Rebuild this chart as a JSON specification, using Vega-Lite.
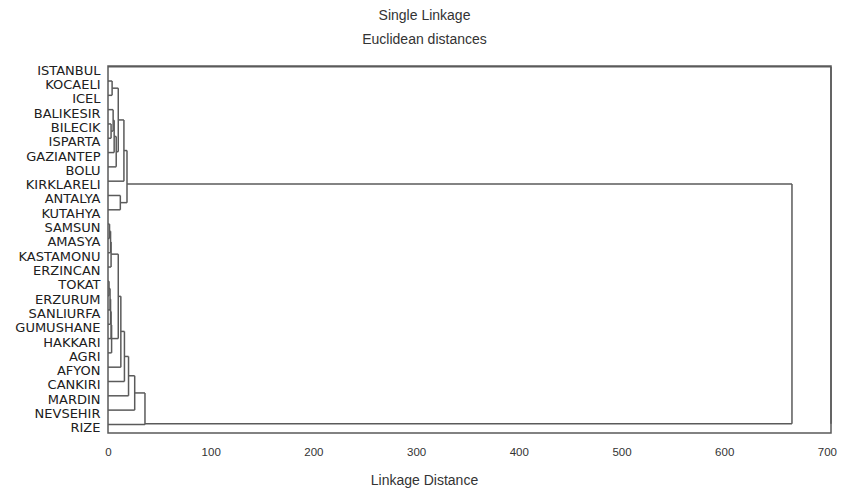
{
  "$schema": "https://vega.github.io/schema/vega-lite/v6.json",
  "width": 723,
  "height": 367,
  "autosize": {"type": "none"},
  "padding": {"left": 108, "top": 66, "right": 14, "bottom": 60},
  "background": "white",
  "title": {
    "text": "Single Linkage",
    "subtitle": "Euclidean distances",
    "font": "Liberation Sans",
    "subtitleFont": "Liberation Sans",
    "fontSize": 14,
    "subtitleFontSize": 14,
    "fontWeight": "normal",
    "color": "#333333",
    "subtitleColor": "#333333",
    "anchor": "middle",
    "dx": -45,
    "offset": 17,
    "subtitlePadding": 10
  },
  "config": {
    "view": {"stroke": "#5a5a5a", "strokeWidth": 1.5}
  },
  "data": {
    "values": [
      {"node": "ISTANBUL", "d1": 0, "d2": 704, "r1": 0, "r2": 0},
      {"node": "KOCAELI", "d1": 0, "d2": 4, "r1": 1, "r2": 1},
      {"node": "ICEL", "d1": 0, "d2": 4, "r1": 2, "r2": 2},
      {"node": "BALIKESIR", "d1": 0, "d2": 5, "r1": 3, "r2": 3},
      {"node": "BILECIK", "d1": 0, "d2": 3, "r1": 4, "r2": 4},
      {"node": "ISPARTA", "d1": 0, "d2": 3, "r1": 5, "r2": 5},
      {"node": "GAZIANTEP", "d1": 0, "d2": 6, "r1": 6, "r2": 6},
      {"node": "BOLU", "d1": 0, "d2": 8, "r1": 7, "r2": 7},
      {"node": "KIRKLARELI", "d1": 0, "d2": 15.5, "r1": 8, "r2": 8},
      {"node": "ANTALYA", "d1": 0, "d2": 12, "r1": 9, "r2": 9},
      {"node": "KUTAHYA", "d1": 0, "d2": 12, "r1": 10, "r2": 10},
      {"node": "SAMSUN", "d1": 0, "d2": 1.5, "r1": 11, "r2": 11},
      {"node": "AMASYA", "d1": 0, "d2": 1.5, "r1": 12, "r2": 12},
      {"node": "KASTAMONU", "d1": 0, "d2": 2.5, "r1": 13, "r2": 13},
      {"node": "ERZINCAN", "d1": 0, "d2": 3, "r1": 14, "r2": 14},
      {"node": "TOKAT", "d1": 0, "d2": 1, "r1": 15, "r2": 15},
      {"node": "ERZURUM", "d1": 0, "d2": 1, "r1": 16, "r2": 16},
      {"node": "SANLIURFA", "d1": 0, "d2": 2, "r1": 17, "r2": 17},
      {"node": "GUMUSHANE", "d1": 0, "d2": 2.5, "r1": 18, "r2": 18},
      {"node": "HAKKARI", "d1": 0, "d2": 3, "r1": 19, "r2": 19},
      {"node": "AGRI", "d1": 0, "d2": 3.5, "r1": 20, "r2": 20},
      {"node": "AFYON", "d1": 0, "d2": 12.5, "r1": 21, "r2": 21},
      {"node": "CANKIRI", "d1": 0, "d2": 16, "r1": 22, "r2": 22},
      {"node": "MARDIN", "d1": 0, "d2": 20, "r1": 23, "r2": 23},
      {"node": "NEVSEHIR", "d1": 0, "d2": 26, "r1": 24, "r2": 24},
      {"node": "RIZE", "d1": 0, "d2": 36, "r1": 25, "r2": 25},

      {"node": "T1", "d1": 4, "d2": 4, "r1": 1, "r2": 2},
      {"node": "T1", "d1": 4, "d2": 10, "r1": 1.5, "r2": 1.5},
      {"node": "T2", "d1": 3, "d2": 3, "r1": 4, "r2": 5},
      {"node": "T2", "d1": 3, "d2": 5, "r1": 4.5, "r2": 4.5},
      {"node": "T3", "d1": 5, "d2": 5, "r1": 3, "r2": 4.5},
      {"node": "T3", "d1": 5, "d2": 6, "r1": 3.75, "r2": 3.75},
      {"node": "T4", "d1": 6, "d2": 6, "r1": 3.75, "r2": 6},
      {"node": "T4", "d1": 6, "d2": 8, "r1": 4.875, "r2": 4.875},
      {"node": "T5", "d1": 8, "d2": 8, "r1": 4.875, "r2": 7},
      {"node": "T5", "d1": 8, "d2": 10, "r1": 5.94, "r2": 5.94},
      {"node": "T6", "d1": 10, "d2": 10, "r1": 1.5, "r2": 5.94},
      {"node": "T6", "d1": 10, "d2": 15.5, "r1": 3.72, "r2": 3.72},
      {"node": "T7", "d1": 15.5, "d2": 15.5, "r1": 3.72, "r2": 8},
      {"node": "T7", "d1": 15.5, "d2": 18.5, "r1": 5.86, "r2": 5.86},
      {"node": "T8", "d1": 12, "d2": 12, "r1": 9, "r2": 10},
      {"node": "T8", "d1": 12, "d2": 18.5, "r1": 9.5, "r2": 9.5},
      {"node": "T9", "d1": 18.5, "d2": 18.5, "r1": 5.86, "r2": 9.5},
      {"node": "T9", "d1": 18.5, "d2": 666, "r1": 8.2, "r2": 8.2},

      {"node": "BA", "d1": 1.5, "d2": 1.5, "r1": 11, "r2": 12},
      {"node": "BA", "d1": 1.5, "d2": 2.5, "r1": 11.5, "r2": 11.5},
      {"node": "BB", "d1": 2.5, "d2": 2.5, "r1": 11.5, "r2": 13},
      {"node": "BB", "d1": 2.5, "d2": 3, "r1": 12.25, "r2": 12.25},
      {"node": "BC", "d1": 3, "d2": 3, "r1": 12.25, "r2": 14},
      {"node": "BC", "d1": 3, "d2": 10, "r1": 13.1, "r2": 13.1},
      {"node": "BD", "d1": 1, "d2": 1, "r1": 15, "r2": 16},
      {"node": "BD", "d1": 1, "d2": 2, "r1": 15.5, "r2": 15.5},
      {"node": "BE", "d1": 2, "d2": 2, "r1": 15.5, "r2": 17},
      {"node": "BE", "d1": 2, "d2": 2.5, "r1": 16.25, "r2": 16.25},
      {"node": "BF", "d1": 2.5, "d2": 2.5, "r1": 16.25, "r2": 18},
      {"node": "BF", "d1": 2.5, "d2": 3, "r1": 17.1, "r2": 17.1},
      {"node": "BG", "d1": 3, "d2": 3, "r1": 17.1, "r2": 19},
      {"node": "BG", "d1": 3, "d2": 3.5, "r1": 18.05, "r2": 18.05},
      {"node": "BH", "d1": 3.5, "d2": 3.5, "r1": 18.05, "r2": 20},
      {"node": "BH", "d1": 3.5, "d2": 10, "r1": 19, "r2": 19},
      {"node": "BI", "d1": 10, "d2": 10, "r1": 13.1, "r2": 19},
      {"node": "BI", "d1": 10, "d2": 12.5, "r1": 16.05, "r2": 16.05},
      {"node": "BJ", "d1": 12.5, "d2": 12.5, "r1": 16.05, "r2": 21},
      {"node": "BJ", "d1": 12.5, "d2": 16, "r1": 18.5, "r2": 18.5},
      {"node": "BK", "d1": 16, "d2": 16, "r1": 18.5, "r2": 22},
      {"node": "BK", "d1": 16, "d2": 20, "r1": 20.25, "r2": 20.25},
      {"node": "BL", "d1": 20, "d2": 20, "r1": 20.25, "r2": 23},
      {"node": "BL", "d1": 20, "d2": 26, "r1": 21.6, "r2": 21.6},
      {"node": "BM", "d1": 26, "d2": 26, "r1": 21.6, "r2": 24},
      {"node": "BM", "d1": 26, "d2": 36, "r1": 22.8, "r2": 22.8},
      {"node": "BN", "d1": 36, "d2": 36, "r1": 22.8, "r2": 25},
      {"node": "BN", "d1": 36, "d2": 666, "r1": 24.95, "r2": 24.95},
      {"node": "R", "d1": 666, "d2": 666, "r1": 8.2, "r2": 24.95},
      {"node": "ROOT", "d1": 704, "d2": 704, "r1": 0, "r2": 24.95}
    ]
  },
  "mark": {"type": "rule", "color": "#5a5a5a", "strokeWidth": 1.5},
  "encoding": {
    "x": {
      "field": "d1",
      "type": "quantitative",
      "scale": {"domain": [0, 704], "nice": false, "zero": false},
      "axis": {
        "values": [0, 100, 200, 300, 400, 500, 600, 700],
        "title": "Linkage Distance",
        "grid": false,
        "ticks": false,
        "domain": false,
        "labelFont": "Liberation Sans",
        "labelFontSize": 11.5,
        "labelColor": "#333333",
        "labelPadding": 13,
        "labelFlush": false,
        "titleFont": "Liberation Sans",
        "titleFontSize": 14,
        "titleFontWeight": "normal",
        "titleColor": "#333333",
        "titleX": 316,
        "titleY": 47,
        "titleAlign": "center",
        "titleBaseline": "middle",
        "titleAnchor": null
      }
    },
    "x2": {"field": "d2"},
    "y": {
      "field": "r1",
      "type": "quantitative",
      "scale": {"domain": [-0.05, 25.6], "reverse": true, "nice": false, "zero": false},
      "axis": {
        "values": [0, 1, 2, 3, 4, 5, 6, 7, 8, 9, 10, 11, 12, 13, 14, 15, 16, 17, 18, 19, 20, 21, 22, 23, 24, 25],
        "labelExpr": "['ISTANBUL','KOCAELI','ICEL','BALIKESIR','BILECIK','ISPARTA','GAZIANTEP','BOLU','KIRKLARELI','ANTALYA','KUTAHYA','SAMSUN','AMASYA','KASTAMONU','ERZINCAN','TOKAT','ERZURUM','SANLIURFA','GUMUSHANE','HAKKARI','AGRI','AFYON','CANKIRI','MARDIN','NEVSEHIR','RIZE'][datum.value]",
        "title": null,
        "grid": false,
        "ticks": false,
        "domain": false,
        "labelFont": "DejaVu Sans",
        "labelFontSize": 13,
        "labelColor": "#202020",
        "labelPadding": 8,
        "labelOffset": 3.5,
        "labelOverlap": false,
        "labelFlush": false,
        "labelBound": false
      }
    },
    "y2": {"field": "r2"}
  }
}
